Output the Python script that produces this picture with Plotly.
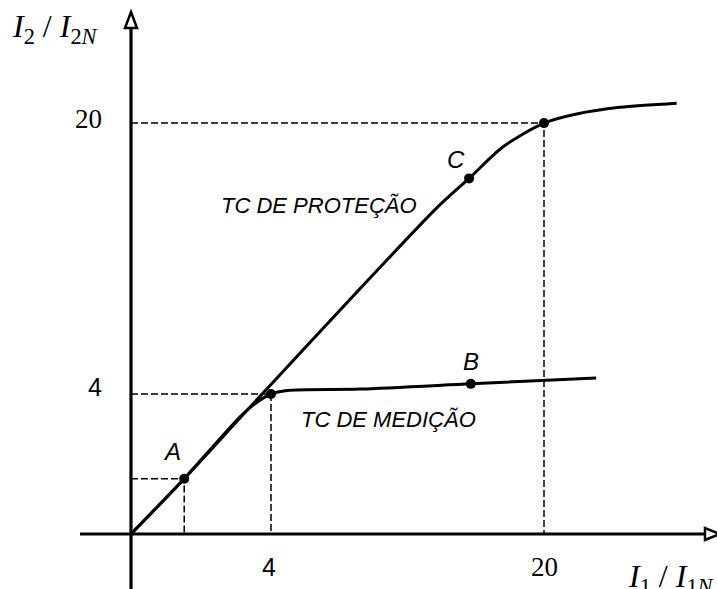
import plotly.graph_objects as go

# Schematic units: the "4" mark sits at 4 on both axes (35 px per unit)
PX = 35.0
ORIGIN_X, ORIGIN_Y = 131, 534
W, H = 717, 589

# Protection CT (TC de proteção) magnetisation characteristic
prot_x = [0, 1.52, 3.70, 8.73, 9.66, 10.64, 11.80, 12.73, 13.97, 15.59]
prot_y = [0, 1.58, 3.95, 9.31, 10.16, 11.07, 11.74, 12.00, 12.19, 12.31]

# Measuring CT (TC de medição) characteristic
med_x = [0, 1.52, 3.11, 3.55, 4.00, 4.46, 6.54, 9.71, 13.29]
med_y = [0, 1.58, 3.34, 3.73, 4.00, 4.10, 4.14, 4.29, 4.46]

# Marked points
pt_names = ["A", "B", "C"]
pt_x = [1.52, 9.71, 9.66]
pt_y = [1.58, 4.29, 10.16]

# Knee / rated points with guide lines
knee_x = [4.00, 11.80]
knee_y = [4.00, 11.74]

# Tick labels
xtick_pos = [4.00, 11.80]
xtick_text = ["4", "20"]
ytick_pos = [4.00, 11.74]
ytick_text = ["4", "20"]

# Curve labels
curve_labels = ["TC DE PROTEÇÃO", "TC DE MEDIÇÃO"]
curve_label_x = [5.37, 7.37]
curve_label_y = [9.40, 3.26]

x_range = [-ORIGIN_X / PX, (W - ORIGIN_X) / PX]
y_range = [(ORIGIN_Y - H) / PX, ORIGIN_Y / PX]

fig = go.Figure()

dash_style = dict(color="black", width=1.5, dash="7px,3px")

# guide lines from each marked point to both axes
guide_pts = [(pt_x[0], pt_y[0])] + list(zip(knee_x, knee_y))
for gx, gy in guide_pts:
    fig.add_trace(go.Scatter(x=[0, gx, gx], y=[gy, gy, 0], mode="lines",
                             line=dash_style, hoverinfo="skip"))

curve_style = dict(color="black", width=3, shape="spline", smoothing=0.8)
fig.add_trace(go.Scatter(x=prot_x, y=prot_y, mode="lines", line=curve_style,
                         hoverinfo="skip"))
fig.add_trace(go.Scatter(x=med_x, y=med_y, mode="lines", line=curve_style,
                         hoverinfo="skip"))

fig.add_trace(go.Scatter(x=pt_x + knee_x, y=pt_y + knee_y, mode="markers",
                         marker=dict(color="black", size=10), hoverinfo="skip"))

shapes = []
# axes
x_axis_end = (705 - ORIGIN_X) / PX
y_axis_end = (ORIGIN_Y - 28) / PX
shapes.append(dict(type="line", x0=(80 - ORIGIN_X) / PX, x1=x_axis_end, y0=0, y1=0,
                   line=dict(color="black", width=3.2)))
shapes.append(dict(type="line", x0=0, x1=0, y0=y_range[0] - 0.1, y1=y_axis_end,
                   line=dict(color="black", width=3.2)))
# open arrowheads
hw = 6 / PX
tip_y = (ORIGIN_Y - 12) / PX
shapes.append(dict(type="path",
                   path=f"M {-hw},{y_axis_end} L 0,{tip_y} L {hw},{y_axis_end} Z",
                   fillcolor="white", line=dict(color="black", width=2.5)))
tip_x = (720 - ORIGIN_X) / PX
shapes.append(dict(type="path",
                   path=f"M {x_axis_end},{-hw} L {tip_x},0 L {x_axis_end},{hw} Z",
                   fillcolor="white", line=dict(color="black", width=2.5)))

annotations = []
sans_it = dict(family="Liberation Sans", size=22, color="black")
for txt, lx, ly in zip(curve_labels, curve_label_x, curve_label_y):
    annotations.append(dict(x=lx, y=ly, text=f"<i>{txt}</i>", showarrow=False,
                            font=sans_it, xanchor="center", yanchor="middle"))

pt_label_dx = [-0.36, 0.0, -0.37]
pt_label_dy = [0.79, 0.65, 0.55]
for name, px_, py_, dx, dy in zip(pt_names, pt_x, pt_y, pt_label_dx, pt_label_dy):
    annotations.append(dict(x=px_ + dx, y=py_ + dy, text=f"<i>{name}</i>", showarrow=False,
                            font=dict(family="Liberation Sans", size=24, color="black"),
                            xanchor="center", yanchor="middle"))

tick_fonts = {"4": dict(family="Liberation Sans", size=25, color="black"),
              "20": dict(family="Liberation Serif", size=27, color="black")}
for pos, txt in zip(xtick_pos, xtick_text):
    annotations.append(dict(x=pos - (0.07 if txt == "4" else 0), y=-0.93, text=txt,
                            showarrow=False, font=tick_fonts[txt],
                            xanchor="center", yanchor="middle"))
for pos, txt in zip(ytick_pos, ytick_text):
    annotations.append(dict(x=-0.77, y=pos + (0.21 if txt == "4" else 0.12), text=txt,
                            showarrow=False, font=tick_fonts[txt],
                            xanchor="right", yanchor="middle"))

serif_title = dict(family="Liberation Serif", size=32, color="black")
annotations.append(dict(x=(10 - ORIGIN_X) / PX, y=(ORIGIN_Y - 6) / PX,
                        text="<i>I</i><sub>2</sub> / <i>I</i><sub>2<i>N</i></sub>",
                        showarrow=False, font=serif_title, xanchor="left", yanchor="top"))
annotations.append(dict(x=(626 - ORIGIN_X) / PX, y=(ORIGIN_Y - 578) / PX,
                        text="<i>I</i><sub>1</sub> / <i>I</i><sub>1<i>N</i></sub>",
                        showarrow=False, font=serif_title, xanchor="left", yanchor="middle"))

fig.update_layout(
    width=W, height=H,
    margin=dict(l=0, r=0, t=0, b=0),
    paper_bgcolor="white", plot_bgcolor="white",
    showlegend=False,
    xaxis=dict(range=x_range, visible=False, fixedrange=True),
    yaxis=dict(range=y_range, visible=False, fixedrange=True),
    shapes=shapes,
    annotations=annotations,
)

fig.write_html("out.html")
